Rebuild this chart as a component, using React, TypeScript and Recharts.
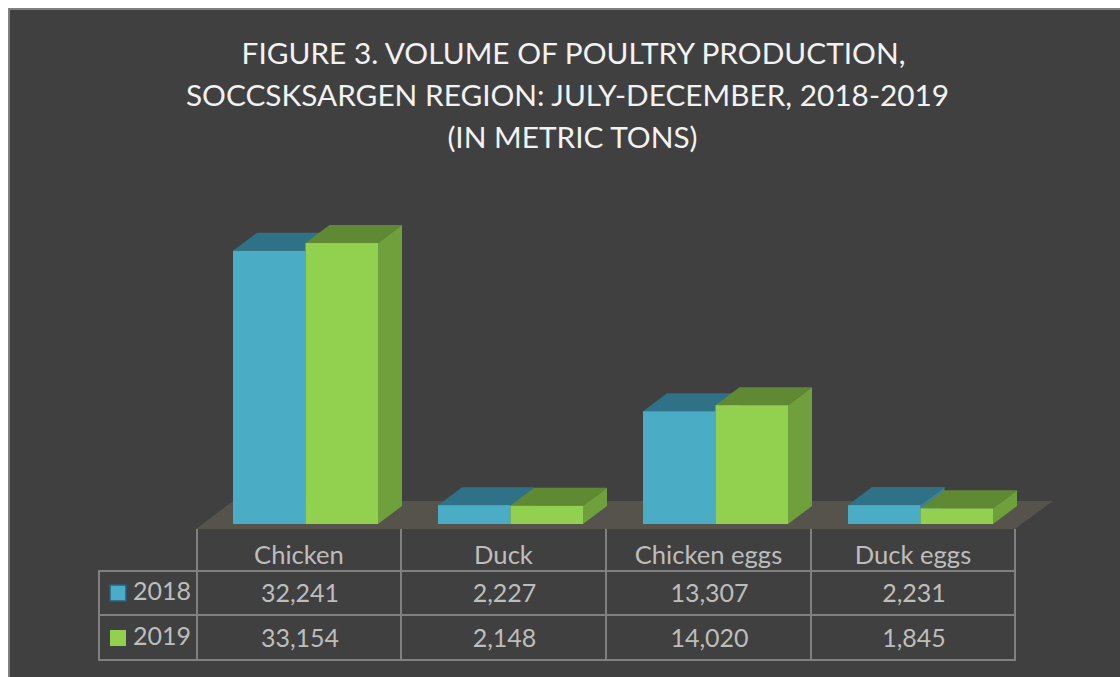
import { BarChart, Bar, XAxis, YAxis } from 'recharts'

const categories = ['Chicken', 'Duck', 'Chicken eggs', 'Duck eggs']
const values2018 = [32241, 2227, 13307, 2231]
const values2019 = [33154, 2148, 14020, 1845]
const seriesNames = ['2018', '2019']
const titleLines = [
  'FIGURE 3. VOLUME OF POULTRY PRODUCTION,',
  'SOCCSKSARGEN REGION: JULY-DECEMBER, 2018-2019',
  '(IN METRIC TONS)',
]

const data = categories.map((name, i) => ({ name, y2018: values2018[i], y2019: values2019[i] }))

const FONT = 'Lato, Carlito, sans-serif'
const DEPTH_X = 24
const DEPTH_Y = 18
const COL_X = [197, 401, 606, 811, 1015]
const ROW_Y = [571, 615, 660]
const TITLE_X = [573.5, 567.5, 572.5]
const LINE = '#808080'
const TEXT = '#bdbdbd'

function box(front: string, top: string, side: string) {
  return (p: any) => {
    const { x, y, width: w, height: h } = p
    return (
      <g>
        <polygon points={`${x},${y} ${x + DEPTH_X},${y - DEPTH_Y} ${x + w + DEPTH_X},${y - DEPTH_Y} ${x + w},${y}`} fill={top} />
        <polygon points={`${x + w},${y} ${x + w + DEPTH_X},${y - DEPTH_Y} ${x + w + DEPTH_X},${y + h - DEPTH_Y} ${x + w},${y + h}`} fill={side} />
        <rect x={x} y={y} width={w} height={h} fill={front} />
      </g>
    )
  }
}

function fmt(v: number) {
  return v.toLocaleString('en-US')
}

function Backdrop() {
  return (
    <svg width={1120} height={677} style={{ position: 'absolute', left: 0, top: 0 }}>
      {titleLines.map((t, i) => (
        <text key={t} x={TITLE_X[i]} y={64 + i * 42} textAnchor="middle" fontFamily={FONT} fontSize={29.8} fill="#f2f2f2">
          {t}
        </text>
      ))}

      <polygon points="196,529 233,501 1053,501 1015,529" fill="#56534c" />

      {COL_X.map((x) => (
        <line key={x} x1={x} x2={x} y1={529} y2={660} stroke={LINE} strokeWidth={2} />
      ))}
      <line x1={99} x2={99} y1={571} y2={660} stroke={LINE} strokeWidth={2} />
      {ROW_Y.map((y) => (
        <line key={y} x1={98} x2={1016} y1={y} y2={y} stroke={LINE} strokeWidth={2} />
      ))}

      {categories.map((c, i) => (
        <text key={c} x={(COL_X[i] + COL_X[i + 1]) / 2} y={564} textAnchor="middle" fontFamily={FONT} fontSize={25.6} fill={TEXT}>
          {c}
        </text>
      ))}
      {values2018.map((v, i) => (
        <text key={i} x={(COL_X[i] + COL_X[i + 1]) / 2 + 1} y={602} textAnchor="middle" fontFamily={FONT} fontSize={25} fill={TEXT}>
          {fmt(v)}
        </text>
      ))}
      {values2019.map((v, i) => (
        <text key={i} x={(COL_X[i] + COL_X[i + 1]) / 2 + 1} y={647} textAnchor="middle" fontFamily={FONT} fontSize={25} fill={TEXT}>
          {fmt(v)}
        </text>
      ))}

      <rect x={110} y={585} width={16} height={16} fill="#4bacc6" stroke="#2a5d80" strokeWidth={1.5} />
      <rect x={110} y={630} width={16} height={16} fill="#92d050" />
      <text x={133} y={600} fontFamily={FONT} fontSize={25} fill={TEXT}>{seriesNames[0]}</text>
      <text x={133} y={645} fontFamily={FONT} fontSize={25} fill={TEXT}>{seriesNames[1]}</text>
    </svg>
  )
}

export default function App() {
  return (
    <div style={{ position: 'fixed', left: 0, top: 0, width: 1120, height: 677, background: '#fff', overflow: 'hidden' }}>
      <div
        style={{
          position: 'absolute',
          left: 8,
          top: 8,
          width: 1112,
          height: 669,
          boxSizing: 'border-box',
          background: '#404040',
          borderLeft: '2px solid #808080',
          borderTop: '2px solid #808080',
        }}
      />
      <Backdrop />
      <div style={{ position: 'absolute', left: 0, top: 0 }}>
        <BarChart
          width={1120}
          height={677}
          data={data}
          margin={{ left: 203, right: 97, top: 185, bottom: 153 }}
          barSize={72.5}
          barGap={0}
        >
          <XAxis dataKey="name" hide />
          <YAxis hide domain={[0, 40000]} />
          <Bar dataKey="y2018" name={seriesNames[0]} isAnimationActive={false} shape={box('#4bacc6', '#2f7186', '#38829a')} />
          <Bar dataKey="y2019" name={seriesNames[1]} isAnimationActive={false} shape={box('#92d050', '#5f8a33', '#70a03c')} />
        </BarChart>
      </div>
    </div>
  )
}
